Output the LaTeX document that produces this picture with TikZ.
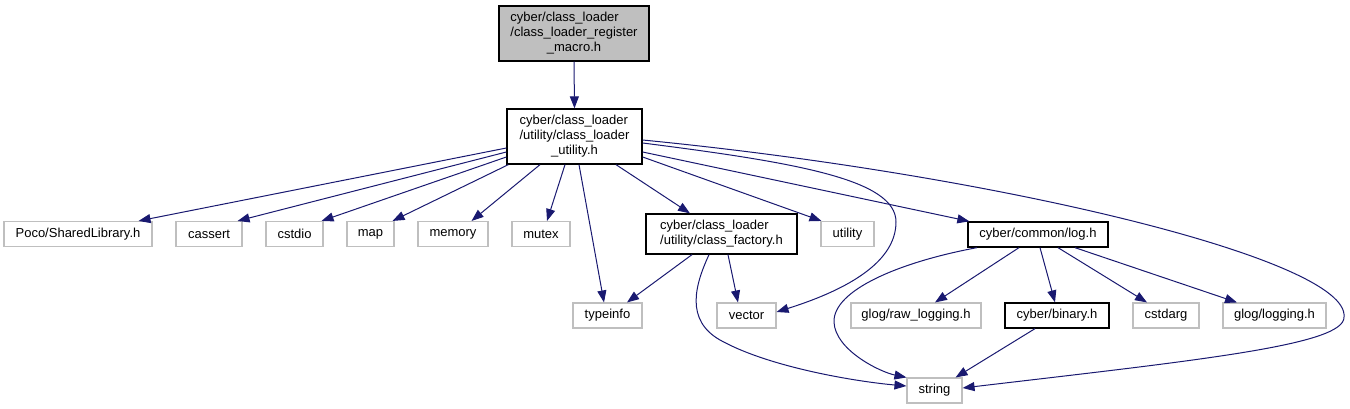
\documentclass[tikz,border=0pt]{standalone}
\usepackage{fontspec}
\setmainfont{Liberation Sans}
\usetikzlibrary{arrows.meta}
\definecolor{edgec}{HTML}{191970}
\definecolor{boxgray}{HTML}{BFBFBF}
\newcommand{\mlab}[3]{\begin{tabular}{@{}l@{}}#1\\#2\\\multicolumn{1}{@{}c@{}}{#3}\end{tabular}}
\newcommand{\tlab}[2]{\begin{tabular}{@{}l@{}}#1\\#2\end{tabular}}
\begin{document}
\begin{tikzpicture}[x=1pt,y=-1pt,
  every node/.style={font=\fontsize{13}{15}\selectfont, inner sep=0pt, anchor=center},
  inc/.style={draw=black, line width=1.3pt, rectangle},
  ext/.style={draw=boxgray, line width=1.1pt, rectangle, minimum height=25pt},
  edge/.style={draw=edgec, line width=1pt, -{Triangle[length=12pt,width=9pt]}}]
\useasboundingbox (0,0) rectangle (1350,409);

% nodes
\node[inc, fill=boxgray, minimum width=150pt, minimum height=55pt] (root) at (574,33.5)
  {\mlab{cyber/class\_loader}{/class\_loader\_register}{\_macro.h}};
\node[inc, fill=white, minimum width=135pt, minimum height=55pt] (util) at (574.5,136.5)
  {\mlab{cyber/class\_loader}{/utility/class\_loader}{\_utility.h}};

\node[ext, minimum width=148pt] (poco) at (78,234) {Poco/SharedLibrary.h};
\node[ext, minimum width=66pt] (cassert) at (209,234) {cassert};
\node[ext, minimum width=57pt] (cstdio) at (294.5,234) {cstdio};
\node[ext, minimum width=47pt] (map) at (370.5,234) {map};
\node[ext, minimum width=70pt] (memory) at (453,234) {memory};
\node[ext, minimum width=58pt] (mutex) at (541,234) {mutex};
\node[inc, minimum width=151pt, minimum height=40pt] (cf) at (721.5,234)
  {\tlab{cyber/class\_loader}{/utility/class\_factory.h}};
\node[ext, minimum width=53pt] (utility) at (847.5,234) {utility};
\node[inc, minimum width=140pt, minimum height=25pt] (log) at (1038,234.5) {cyber/common/log.h};

\node[ext, minimum width=69pt] (typeinfo) at (607.5,315.5) {typeinfo};
\node[ext, minimum width=59pt] (vector) at (746.5,315.5) {vector};
\node[ext, minimum width=130pt] (raw) at (916,315.5) {glog/raw\_logging.h};
\node[inc, minimum width=104pt, minimum height=25pt] (binary) at (1057,315.5) {cyber/binary.h};
\node[ext, minimum width=66pt] (cstdarg) at (1166,315.5) {cstdarg};
\node[ext, minimum width=103pt] (glog) at (1274.5,315.5) {glog/logging.h};

\node[ext, minimum width=55pt] (string) at (934.5,390.5) {string};

% edges
\draw[edge] (root.south) -- (util.north);

\draw[edge] ([yshift=-11.5pt]util.west) -- ([xshift=-14pt]poco.north east);
\draw[edge] ([yshift=-15.5pt]util.west) -- ([xshift=-5pt]cassert.north east);
\draw[edge] ([yshift=-20.5pt]util.west) -- ([xshift=-2pt]cstdio.north east);
\draw[edge] ([xshift=2pt]util.south west) -- ([xshift=-2pt]map.north east);
\draw[edge] ([xshift=-34.5pt]util.south) -- ([xshift=-17pt]memory.north east);
\draw[edge] ([xshift=-9.5pt]util.south) -- ([xshift=6pt]mutex.north);
\draw[edge] ([xshift=4.5pt]util.south) -- ([xshift=-3.5pt]typeinfo.north);
\draw[edge] ([xshift=41.5pt]util.south) -- ([xshift=-31.5pt]cf.north);
\draw[edge] ([yshift=-20.5pt]util.east) -- ([xshift=1pt]utility.north west);
\draw[edge] ([yshift=-15.5pt]util.east) -- ([xshift=2pt]log.north west);
\draw[edge] ([yshift=-6.5pt]util.east) .. controls (800,163) and (896,180) .. (896,222)
  .. controls (896,265) and (840,292) .. ([yshift=3.5pt]vector.east);
\draw[edge] ([yshift=-3.5pt]util.east) .. controls (1000,175) and (1350,260) .. (1344,317)
  .. controls (1345,345) and (1200,360) .. ([yshift=2.5pt]string.east);

\draw[edge] ([xshift=-29.5pt]cf.south) -- ([xshift=19.5pt]typeinfo.north);
\draw[edge] ([xshift=6.5pt]cf.south) -- ([xshift=-8.5pt]vector.north);
\draw[edge] ([xshift=-12.5pt]cf.south) .. controls (695,285) and (685,320) .. (720,340)
  .. controls (770,368) and (860,382) .. ([yshift=4.5pt]string.west);

\draw[edge] ([xshift=-61pt]log.south) .. controls (900,262) and (833,290) .. (834,322)
  .. controls (835,350) and (880,372) .. (string.north west);
\draw[edge] ([xshift=-19pt]log.south) -- ([xshift=19pt]raw.north);
\draw[edge] ([xshift=2pt]log.south) -- ([xshift=-2pt]binary.north);
\draw[edge] ([xshift=20pt]log.south) -- ([xshift=-19pt]cstdarg.north);
\draw[edge] ([xshift=37pt]log.south) -- ([xshift=-37.5pt]glog.north);

\draw[edge] ([xshift=-22pt]binary.south) -- ([xshift=-7pt]string.north east);
\end{tikzpicture}
\end{document}
